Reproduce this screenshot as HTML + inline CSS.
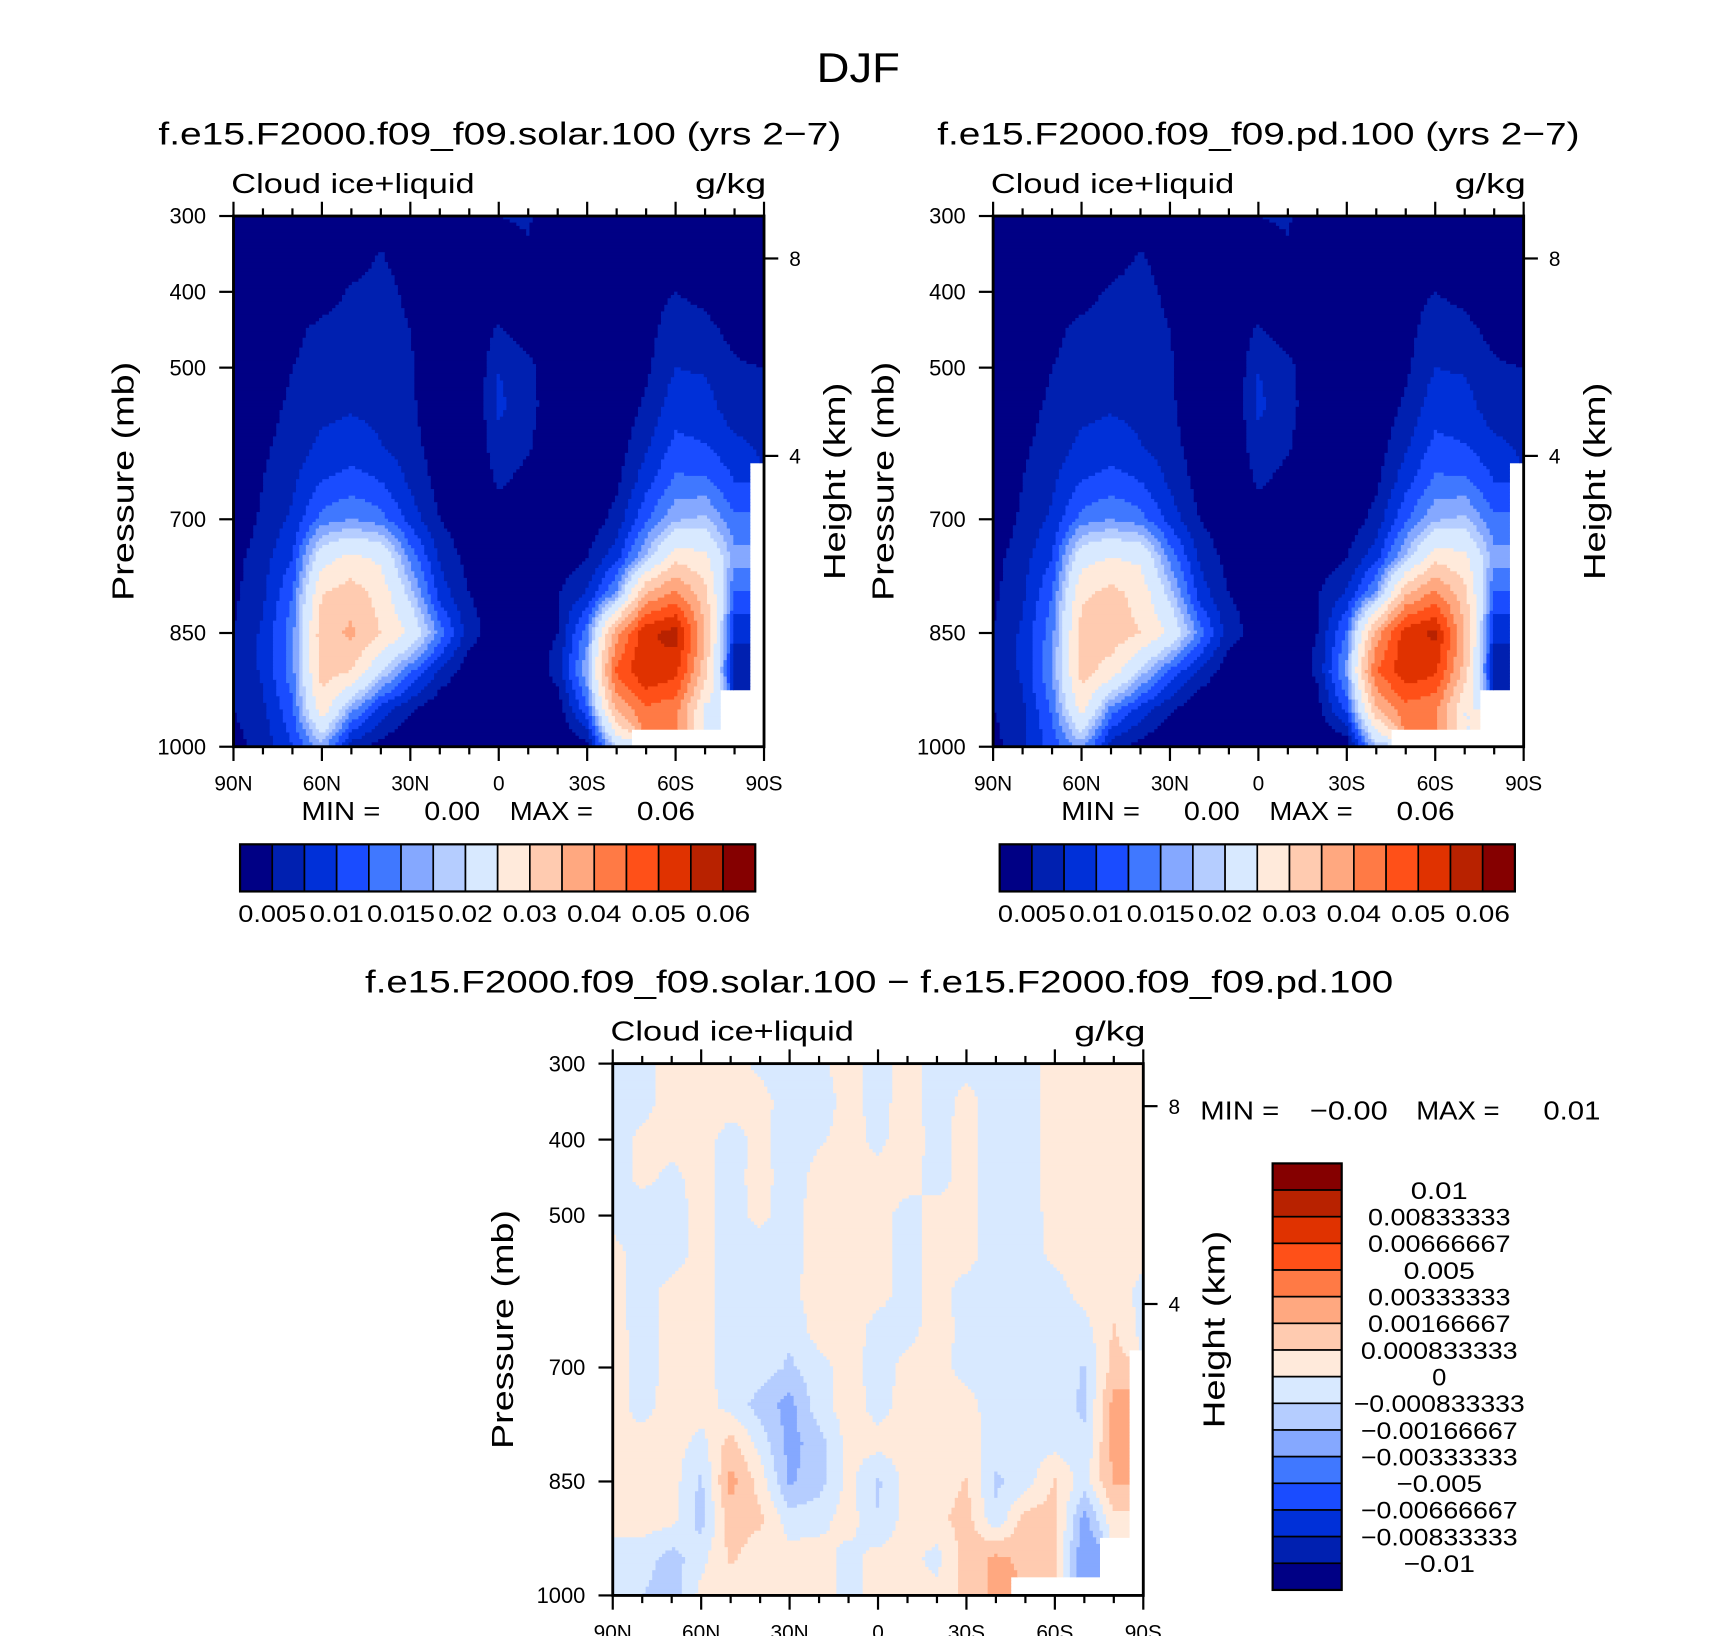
<!DOCTYPE html>
<html><head><meta charset="utf-8"><style>
html,body{margin:0;padding:0;background:#fff;}
svg{display:block;}
text{font-family:"Liberation Sans",sans-serif;fill:#000;}
</style></head><body>
<svg id="fig" width="1710" height="1636" viewBox="0 0 1560 1492" preserveAspectRatio="none" xmlns="http://www.w3.org/2000/svg">
<rect x="0" y="0" width="1560" height="1492" fill="#fff"/>
<text x="783" y="75" font-size="38" text-anchor="middle" textLength="76" lengthAdjust="spacingAndGlyphs">DJF</text>
<g id="p1"></g>
<g id="p2"></g>
<g id="p3"></g>
</svg>
<script>
const NS="http://www.w3.org/2000/svg";
const latLabels=["90N","60N","30N","0","30S","60S","90S"];
const pTicks=[300,400,500,700,850,1000];
const heightTicks=[8,4];
const palette=["#000085","#0020b0","#0030d8","#1a4cff","#4078ff","#85a8ff","#b5cdff","#d8e9ff","#ffeadb","#ffcbb0","#ffa880","#ff7a45","#ff5018","#e03200","#b82200","#850000"];
const absLevels=[0.005,0.0075,0.01,0.0125,0.015,0.0175,0.02,0.025,0.03,0.035,0.04,0.045,0.05,0.055,0.06];
const absLabels=["0.005","0.01","0.015","0.02","0.03","0.04","0.05","0.06"];
const diffLevels=[-0.01,-0.00833333,-0.00666667,-0.005,-0.00333333,-0.00166667,-0.000833333,0,0.000833333,0.00166667,0.00333333,0.005,0.00666667,0.00833333,0.01];
const diffLabels=["0.01","0.00833333","0.00666667","0.005","0.00333333","0.00166667","0.000833333","0","\u22120.000833333","\u22120.00166667","\u22120.00333333","\u22120.005","\u22120.00666667","\u22120.00833333","\u22120.01"];
const pressureLevels=[300,350,400,450,500,550,600,650,700,750,800,850,900,950,1000];
// columns: 90N..90S every 10 deg; values in 1e-3 g/kg
const solarField=[
[2,2,2,2,2,2,2,2,2,5,5.5,2,2,2,2,2,2,2,2],
[2,2,2,2,3,5.2,3,2,2,3,4.5,2,2,2,2,2,2,2,2],
[2,2,2,3,5.5,6.5,4,2,2,2,2,2,2,2,4,5,4,2,2],
[2,2,4,6,6.8,6.8,5,2,2,5.5,3,2,2,2,4,6.5,6,4,2],
[2,3,5,6.5,7,7,5.5,2,2,7.5,6,2,2,2,4.5,7.5,7.2,5.5,5],
[2,4,5.5,6.8,7.2,7,5.5,3,2,8,6,3,2,3,5.5,9,8.5,6,6],
[2,4.5,6,8,8.5,7.5,6,3.5,2,7,5.5,2,2,3.5,7,10.5,10,8,7],
[2,5,7,10,11,10,7,4,2,5.5,4,2,2,4.5,9,13,13,10,null],
[3,5.5,8,13.5,15,13.5,9,5,3,3.5,2,2,3,6,12,17,18,13,null],
[4,6.5,10,23,26,24,14,7,4,3,2,3,5,9,18,28,26,16,null],
[4.5,7,12.5,30,33,28,19,9,5,4,4,5,8,16,36,42,32,12,null],
[5,8,14,33,36,30,24,14,6,3.5,4,5,14,38,54,57,35,8,null],
[5,8,14,32,30,20,13,7,3.5,3,3,6,17,46,55,52,32,6,null],
[5,7,12,28,16,9,5.5,3,2,3,4,3.5,12,36,44,42,24,null,null],
[4,6,10,16,6,4,2,2,2,2,2,2,4,20,null,null,null,null,null]];
const pdField=[
[2,2,2,2,2,2,2,2,2,5,5.5,2,2,2,2,2,2,2,2],
[2,2,2,2,3,5.3,3,2,2,3,4.5,2,2,2,2,2,2,2,2],
[2,2,2,3.5,5.6,6.5,4,2,2,2,2,2,2,2,4,5,4,2,2],
[2,2,4,6,6.8,6.8,5,2,2,5.5,3,2,2,2,4,6.5,6,4,2],
[2,3,5,6.5,7,7,5.5,2,2,7.5,6,2,2,2,4.5,7.5,7.2,5.5,5],
[2,4,5.5,6.8,7.2,7,5.5,3,2,8,6,3,2,3,5.5,9,8.5,6,6],
[2,4.5,6,8,8.5,7.5,6,3.5,2,7,5.5,2,2,3.5,7,10.5,10,8,7],
[2,5,7,10,11,10,7,4,2,5.5,4,2,2,4.5,9,13,13,10,null],
[3,5.5,8,13.5,15,13.5,9,5,3,3.5,2,2,3,6,12,17,18,13,null],
[4,6.5,10,23,25,24,14,7,4,3,2,3,5,9,18,28,26,16,null],
[4.5,7,12.5,29,32,28,19,9,5,4,4,5,8,16,35,42,32,12,null],
[5,8,14,32,33,30,24,14,6,4,4,5,13,37,53,56,35,8,null],
[5,8,15,32,28,19,12,7,3.5,3.5,3,5.5,16,45,54,51,33,6,null],
[5,7,13,27,14,9,5.5,3,2,3,4,4,11,34,43,41,25,null,null],
[4,7,11,16,6,4,2,2,2,2,2,2,3,18,null,null,null,null,null]];
const diffField=[
[-.4,-.4,.4,.4,.4,-.2,-.4,-.2,.4,-.4,.4,-.4,-.3,-.4,-.4,.4,.4,.4,.4],
[-.4,-.3,.4,.4,.3,.3,-.4,-.4,.3,-.3,.4,-.4,.3,-.4,-.4,.4,.4,.4,.4],
[-.4,.2,.3,.3,-.3,.2,-.4,-.1,.3,-.2,.4,-.3,.3,-.4,-.4,.4,.4,.4,.4],
[-.4,.2,-.2,.3,-.3,.3,-.4,.3,.3,.3,.3,-.3,.3,-.4,-.4,.4,.4,.4,.4],
[-.3,-.4,-.4,.3,-.3,.2,-.4,.4,.3,.3,-.3,.3,.3,-.4,-.4,.3,.3,.4,.4],
[.3,-.4,-.4,.3,-.4,-.4,-.4,.4,.4,.3,-.3,.3,.3,-.4,-.4,.2,.3,.5,.3],
[.3,-.4,.3,.3,-.4,-.4,-.2,.4,.4,.3,-.3,.3,-.3,-.4,-.4,-.3,.3,.5,-.3],
[.4,-.4,.3,.3,-.4,-.4,-.6,.4,.4,-.3,-.3,.4,-.3,-.4,-.4,-.4,-.3,.9,-.3],
[.5,-.4,.3,.3,-.4,-.3,-1.0,-.3,.4,-.4,.3,.3,-.3,-.4,-.4,-.3,-.9,1.2,null],
[.3,-.3,.4,.4,-.3,-1.2,-2.0,-.3,.4,-.3,.3,.3,.3,-.4,-.3,-.4,-1.0,2.0,null],
[.3,.3,.4,-.3,1.2,-.3,-2.0,-1.2,.3,.3,.3,.3,.3,-.3,-.4,-.3,-.7,2.0,null],
[.3,.4,.4,-1.0,2.0,.5,-1.8,-1.2,.3,-1.0,.4,.3,.9,-1.0,-.4,.9,-.4,1.8,null],
[.3,.4,.3,-1.2,1.3,1.0,-.4,-.3,.4,-.8,.4,.6,1.2,-.6,1.2,1.2,-2.0,.6,null],
[-.3,-.4,-1.2,-.3,1.0,.3,.3,.4,-.3,.3,.3,-.3,1.2,1.8,1.5,.9,-2.5,null,null],
[-.3,-.8,-1.5,.3,.3,.3,.3,.4,-.3,.3,.4,.3,1.0,2.0,null,null,null,null,null]];
const VALUE_SCALE=0.001;

function mk(tag,attrs,parent,txt){const e=document.createElementNS(NS,tag);for(const k in attrs)e.setAttribute(k,attrs[k]);if(txt!==undefined)e.textContent=txt;parent.appendChild(e);return e;}

function sample(field,u,v){
  const nr=field.length,nc=field[0].length;
  const ni=Math.round(v),nj=Math.round(u);
  if(field[Math.min(nr-1,ni)][Math.min(nc-1,nj)]===null)return null;
  const i0=Math.max(0,Math.min(nr-2,Math.floor(v))),j0=Math.max(0,Math.min(nc-2,Math.floor(u)));
  const fv=v-i0,fu=u-j0;let s=0,w=0;
  const pts=[[i0,j0,(1-fv)*(1-fu)],[i0,j0+1,(1-fv)*fu],[i0+1,j0,fv*(1-fu)],[i0+1,j0+1,fv*fu]];
  for(const [i,j,ww] of pts){const val=field[i][j];if(val!==null&&ww>0){s+=val*ww;w+=ww;}}
  return w>0?s/w:null;
}
function levelIndex(val,levels){let k=0;for(const l of levels){if(val>=l)k++;}return k;}

function drawPanel(g,cfg){
  const {x0,y0,w,h,field,levels}=cfg;
  const xS=(col)=>x0+col/18*w;
  const yS=(p)=>y0+(p-300)/700*h;
  const hm=mk("g",{},g);
  
  
  const step=3;
  for(let py=0;py<h;py+=step){
    let runStart=0,runColor=null;
    const flush=(end)=>{if(runColor){const r=mk("rect",{x:x0+runStart,y:y0+py,width:Math.min(end,w)-runStart+0.5,height:Math.min(step,h-py)+0.5,fill:runColor},hm);}};
    for(let px=0;px<w;px+=step){
      const u=(px+step/2)/w*18;
      const p=300+(py+step/2)/h*700;
      const v=(p-300)/50;
      const val=sample(field,u,v);
      const c=val===null?null:palette[levelIndex(val*VALUE_SCALE,levels)];
      if(c!==runColor){flush(px);runStart=px;runColor=c;}
    }
    flush(w);
  }
  const box=mk("rect",{x:x0,y:y0,width:w,height:h,fill:"none",stroke:"#000","stroke-width":2.6},g);
  
  for(let c=0;c<=18;c++){
    const x=xS(c);const major=c%3===0;const L=major?13:7;
    mk("line",{x1:x,y1:y0+h,x2:x,y2:y0+h+L,stroke:"#000","stroke-width":2},g);
    mk("line",{x1:x,y1:y0,x2:x,y2:y0-L,stroke:"#000","stroke-width":2},g);
    if(major){const t=mk("text",{x:x,y:y0+h+40,"font-size":19,"text-anchor":"middle"},g,latLabels[c/3]);
      }
  }
  for(const p of pTicks){
    const y=yS(p);
    mk("line",{x1:x0,y1:y,x2:x0-13,y2:y,stroke:"#000","stroke-width":2},g);
    const t=mk("text",{x:x0-25,y:y+7,"font-size":20,"text-anchor":"end"},g,String(p));
    
  }
  for(const z of heightTicks){
    const pz=1013.25*Math.pow(1-2.25577e-5*z*1000,5.25588);
    const y=yS(pz);
    mk("line",{x1:x0+w,y1:y,x2:x0+w+13,y2:y,stroke:"#000","stroke-width":2},g);
    const t=mk("text",{x:x0+w+23,y:y+7,"font-size":19},g,String(z));
    
  }
  const yt=mk("text",{x:0,y:0,"font-size":28,"text-anchor":"middle",textLength:218,lengthAdjust:"spacingAndGlyphs",transform:`translate(${x0-91},${y0+h/2}) rotate(-90)`},g,"Pressure (mb)");
  
  const ht=mk("text",{x:0,y:0,"font-size":28,"text-anchor":"middle",textLength:180,lengthAdjust:"spacingAndGlyphs",transform:`translate(${x0+w+74},${y0+h/2}) rotate(-90)`},g,"Height (km)");
  
  const lt=mk("text",{x:x0-2,y:y0-21,"font-size":25,textLength:222,lengthAdjust:"spacingAndGlyphs"},g,"Cloud ice+liquid");
  
  const ut=mk("text",{x:x0+w-63,y:y0-21,"font-size":25,textLength:65,lengthAdjust:"spacingAndGlyphs"},g,"g/kg");
  
  const tt=mk("text",{x:cfg.titleX,y:y0-65,"font-size":29,"text-anchor":"middle",textLength:cfg.titleLen,lengthAdjust:"spacingAndGlyphs"},g,cfg.title);
  
}

function hColorbar(g,x0,y0,w,h,labels){
  const bw=w/16;
  for(let k=0;k<16;k++){const r=mk("rect",{x:x0+k*bw,y:y0,width:bw,height:h,fill:palette[k],stroke:"#000","stroke-width":1.5},g);
    }
  mk("rect",{x:x0,y:y0,width:w,height:h,fill:"none",stroke:"#000","stroke-width":2},g);
  labels.forEach((l,i)=>{const t=mk("text",{x:x0+(1+2*i)*bw,y:y0+h+28,"font-size":22,"text-anchor":"middle",textLength:l.length*12.4,lengthAdjust:"spacingAndGlyphs"},g,l);
    });
}
function minmax(g,y,pos,mn,mx){
  const a=mk("text",{x:pos[0],y:y,"font-size":24,textLength:pos[1]-pos[0],lengthAdjust:"spacingAndGlyphs"},g,"MIN =");
  const b=mk("text",{x:pos[2],y:y,"font-size":24,textLength:pos[3]-pos[2],lengthAdjust:"spacingAndGlyphs"},g,mn);
  const c=mk("text",{x:pos[4],y:y,"font-size":24,textLength:pos[5]-pos[4],lengthAdjust:"spacingAndGlyphs"},g,"MAX =");
  const d=mk("text",{x:pos[6],y:y,"font-size":24,textLength:pos[7]-pos[6],lengthAdjust:"spacingAndGlyphs"},g,mx);
}

const g1=document.getElementById('p1'),g2=document.getElementById('p2'),g3=document.getElementById('p3');
drawPanel(g1,{x0:213,y0:197,w:484,h:484,field:solarField,levels:absLevels,title:"f.e15.F2000.f09_f09.solar.100 (yrs 2\u22127)",titleX:456,titleLen:623});
minmax(g1,748,[275,347,387,438,465,541,581,634],"0.00","0.06");
hColorbar(g1,219,770,470,43,absLabels);
drawPanel(g2,{x0:906,y0:197,w:484,h:484,field:pdField,levels:absLevels,title:"f.e15.F2000.f09_f09.pd.100 (yrs 2\u22127)",titleX:1148,titleLen:586});
minmax(g2,748,[968,1040,1080,1131,1158,1234,1274,1327],"0.00","0.06");
hColorbar(g2,912,770,470,43,absLabels);
drawPanel(g3,{x0:559,y0:970,w:484,h:485,field:diffField,levels:diffLevels,title:"f.e15.F2000.f09_f09.solar.100 \u2212 f.e15.F2000.f09_f09.pd.100",titleX:802,titleLen:938});
minmax(g3,1021,[1095,1167,1195,1266,1292,1368,1408,1460],"\u22120.00","0.01");
(function(){
  const x0=1161,y0=1061,w=63,h=389,bh=h/16;
  for(let k=0;k<16;k++){const r=mk("rect",{x:x0,y:y0+k*bh,width:w,height:bh,fill:palette[15-k],stroke:"#000","stroke-width":1.5},g3);
    }
  mk("rect",{x:x0,y:y0,width:w,height:h,fill:"none",stroke:"#000","stroke-width":2},g3);
  diffLabels.forEach((l,i)=>{const t=mk("text",{x:1313,y:y0+(i+1)*bh+8,"font-size":22,"text-anchor":"middle",textLength:l.length*13,lengthAdjust:"spacingAndGlyphs"},g3,l);
    });
})();
</script>
</body></html>
